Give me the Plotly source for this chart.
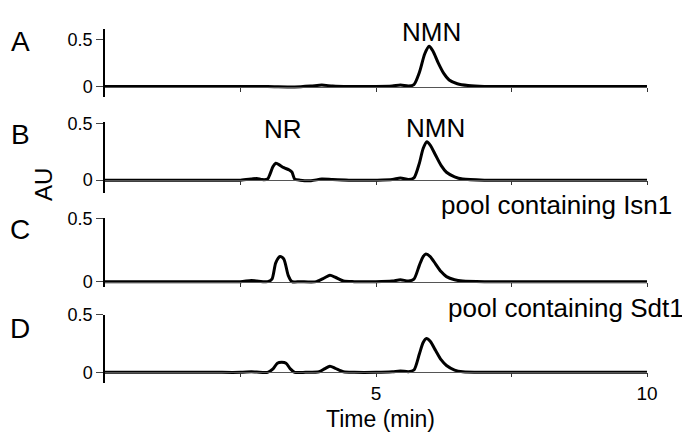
import plotly.graph_objects as go

# ---------------- data ----------------
time_a = [0, 1, 2, 2.5, 3, 3.5, 3.8, 4.0, 4.2, 4.5, 5.0, 5.3, 5.45, 5.6, 5.7, 5.8, 5.9, 5.98, 6.05, 6.15, 6.25, 6.35, 6.5, 6.7, 7, 7.5, 8, 9, 10]
au_a = [0, 0, 0, 0, 0, -0.005, 0.005, 0.015, 0.005, 0, 0, 0.005, 0.015, 0.005, 0.02, 0.15, 0.35, 0.43, 0.38, 0.25, 0.14, 0.07, 0.03, 0.01, 0, 0, 0, 0, 0]

time_b = [0, 1, 2, 2.5, 2.7, 2.8, 2.9, 3.0, 3.05, 3.1, 3.15, 3.2, 3.3, 3.4, 3.45, 3.5, 3.6, 3.8, 4.0, 4.2, 4.5, 5, 5.3, 5.45, 5.6, 5.7, 5.8, 5.87, 5.94, 6.0, 6.1, 6.2, 6.3, 6.45, 6.6, 7, 8, 10]
au_b = [0, 0, 0, 0, 0.01, 0.015, 0.005, 0.01, 0.06, 0.12, 0.15, 0.14, 0.11, 0.09, 0.07, 0.01, 0, -0.005, 0.01, 0.005, 0, 0, 0.005, 0.02, 0.005, 0.02, 0.15, 0.28, 0.34, 0.31, 0.22, 0.13, 0.07, 0.03, 0.01, 0, 0, 0]

time_c = [0, 1, 2, 2.5, 2.7, 2.8, 3.0, 3.08, 3.15, 3.23, 3.3, 3.38, 3.45, 3.6, 3.9, 4.05, 4.15, 4.25, 4.4, 4.6, 5, 5.3, 5.45, 5.6, 5.7, 5.8, 5.87, 5.92, 6.0, 6.1, 6.2, 6.3, 6.45, 6.6, 7, 8, 10]
au_c = [0, 0, 0, 0, 0.01, 0.005, 0, 0.02, 0.15, 0.2, 0.18, 0.05, 0, 0, 0, 0.03, 0.05, 0.035, 0.005, 0, 0, 0.005, 0.015, 0.005, 0.02, 0.13, 0.2, 0.22, 0.2, 0.14, 0.08, 0.04, 0.015, 0.005, 0, 0, 0]

time_d = [0, 1, 2, 2.5, 2.7, 2.8, 3.0, 3.1, 3.18, 3.26, 3.34, 3.42, 3.5, 3.7, 3.95, 4.05, 4.15, 4.25, 4.4, 4.6, 5, 5.3, 5.45, 5.6, 5.7, 5.8, 5.87, 5.93, 6.0, 6.1, 6.2, 6.3, 6.45, 6.6, 7, 8, 10]
au_d = [0, 0, 0, 0, 0.005, 0.003, 0, 0.03, 0.08, 0.087, 0.08, 0.03, 0, 0, 0.005, 0.03, 0.053, 0.035, 0.005, 0, 0, 0.005, 0.012, 0.005, 0.02, 0.16, 0.26, 0.294, 0.27, 0.19, 0.11, 0.06, 0.02, 0.005, 0, 0, 0]

panel_labels = ["A", "B", "C", "D"]
x_tickvals = [2.5, 5, 7.5, 10]
x_ticktext = ["", "5", "", "10"]
y_tickvals = [0, 0.5]
y_ticktext = ["0", "0.5"]

# ---------------- layout geometry ----------------
OFF = 8  # page body margin offset
W, H = 682, 424
ML, MR, MT, MB = 97, 43, 12, 49
PW, PH = W - ML - MR, H - MT - MB


def px_x(px):
    # page pixel -> paper x
    return (px - OFF - ML) / PW


def px_y(py):
    # page pixel -> paper y
    return (H - MB - (py - OFF)) / PH


domains = [[px_y(90), 1.0], [px_y(188), px_y(115)], [px_y(285), px_y(214)], [0.0, px_y(313)]]
yranges = [[-0.115, 0.615], [-0.112, 0.517], [-0.046, 0.505], [-0.093, 0.502]]

FONT = "Arial, Liberation Sans, sans-serif"

fig = go.Figure()
series = [(time_a, au_a), (time_b, au_b), (time_c, au_c), (time_d, au_d)]
for i, (t, v) in enumerate(series):
    sfx = "" if i == 0 else str(i + 1)
    fig.add_trace(go.Scatter(x=t, y=v, mode="lines", xaxis="x" + sfx, yaxis="y" + sfx,
                             line=dict(color="black", width=3, shape="spline", smoothing=0.7),
                             showlegend=False, hoverinfo="skip"))

layout = dict(width=W, height=H, margin=dict(l=ML, r=MR, t=MT, b=MB),
              paper_bgcolor="white", plot_bgcolor="white",
              font=dict(family=FONT, color="black"))

for i in range(4):
    sfx = "" if i == 0 else str(i + 1)
    d0, d1 = domains[i]
    r0, r1 = yranges[i]
    pos = d0 + (0 - r0) / (r1 - r0) * (d1 - d0)
    xa = dict(range=[0, 10], domain=[0, 1], anchor="free", position=pos,
              showline=True, linecolor="#555", linewidth=1.2,
              ticks="outside", ticklen=4, tickwidth=1.2, tickcolor="#333",
              tickvals=x_tickvals, ticktext=x_ticktext if i == 3 else ["", "", "", ""],
              tickfont=dict(size=19), showgrid=False, zeroline=False, fixedrange=True)
    ya = dict(range=yranges[i], domain=domains[i], anchor="x" + sfx,
              showline=True, linecolor="black", linewidth=1.5,
              ticks="outside", ticklen=7, tickwidth=1.2,
              tickvals=y_tickvals, ticktext=y_ticktext, tickfont=dict(size=18),
              showgrid=False, zeroline=False, fixedrange=True)
    layout["xaxis" + sfx] = xa
    layout["yaxis" + sfx] = ya

annotations = []
letter_y = [33, 128, 226, 327]
for lab, py in zip(panel_labels, letter_y):
    annotations.append(dict(text=lab, xref="paper", yref="paper", x=px_x(20), y=px_y(py),
                            xanchor="center", yanchor="middle", showarrow=False,
                            font=dict(size=28)))
annotations.append(dict(text="AU", xref="paper", yref="paper", x=px_x(43), y=px_y(180),
                        textangle=-90, xanchor="center", yanchor="middle", showarrow=False,
                        font=dict(size=24)))
annotations.append(dict(text="Time (min)", xref="paper", yref="paper", x=px_x(380), y=px_y(434),
                        xanchor="center", yanchor="bottom", showarrow=False, font=dict(size=23),
                        borderpad=0))
annotations.append(dict(text="NMN", xref="x", yref="y", x=6.03, y=0.583,
                        xanchor="center", yanchor="middle", showarrow=False, font=dict(size=26)))
annotations.append(dict(text="NMN", xref="x2", yref="y2", x=6.09, y=0.457,
                        xanchor="center", yanchor="middle", showarrow=False, font=dict(size=26)))
annotations.append(dict(text="NR", xref="x2", yref="y2", x=3.28, y=0.448,
                        xanchor="center", yanchor="middle", showarrow=False, font=dict(size=26)))
annotations.append(dict(text="pool containing Isn1", xref="paper", yref="paper", x=px_x(674), y=px_y(200),
                        xanchor="right", yanchor="middle", showarrow=False, font=dict(size=26)))
annotations.append(dict(text="pool containing Sdt1", xref="paper", yref="paper", x=px_x(686), y=px_y(306),
                        xanchor="right", yanchor="middle", showarrow=False, font=dict(size=26)))
layout["annotations"] = annotations

fig.update_layout(**layout)
fig.write_html("out.html")
